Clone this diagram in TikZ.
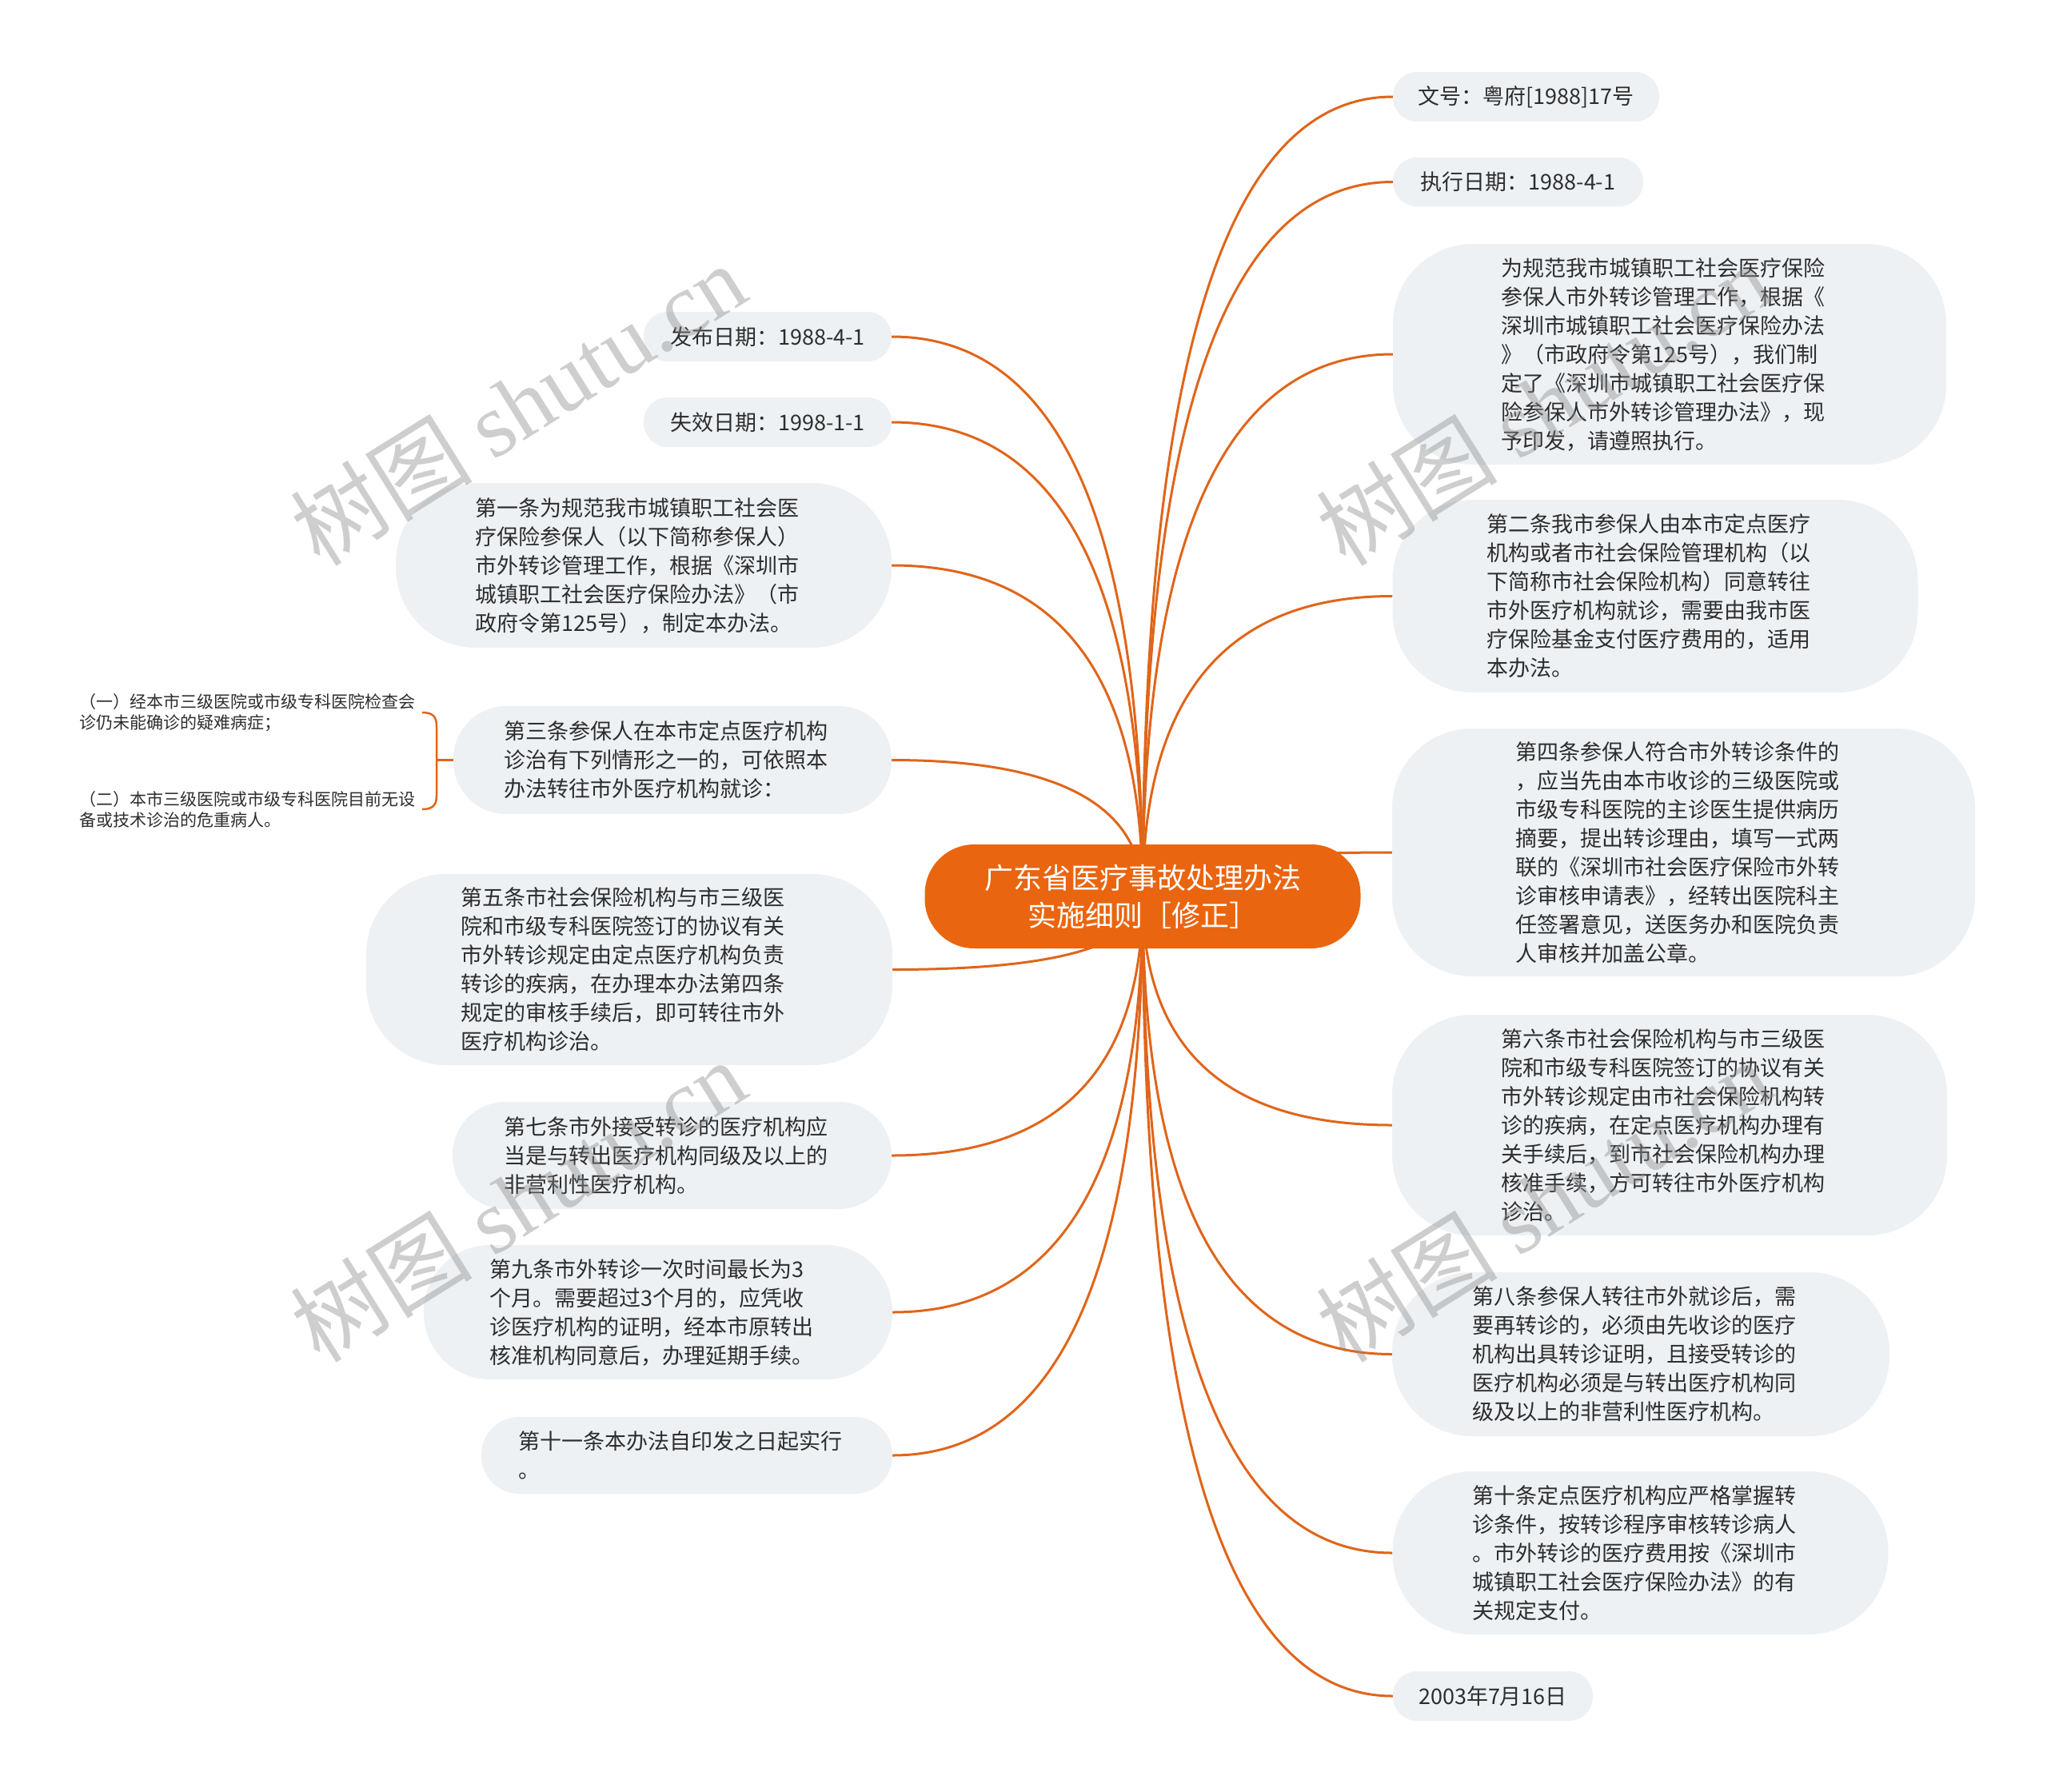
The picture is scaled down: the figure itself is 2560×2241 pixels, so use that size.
\documentclass[tikz,border=0pt]{standalone}
\usepackage{fontspec}
\setmainfont{Noto Sans CJK SC}
\newfontfamily\wmserif{Liberation Serif}
\usetikzlibrary{calc,backgrounds}
\definecolor{boxfill}{HTML}{EEF1F4}
\definecolor{mainfill}{HTML}{EA6510}
\definecolor{linkc}{HTML}{E0651A}
\definecolor{txt}{HTML}{2D2D2D}
\definecolor{wm}{HTML}{8C8C8C}
\begin{document}
\begin{tikzpicture}[x=1pt,y=-1pt,
  bx/.style={fill=boxfill, align=left, text=txt, inner sep=0pt, font=\fontsize{27}{36}\selectfont},
  longbx/.style={bx, text width=421pt},
  mainbox/.style={fill=mainfill, text=white, align=center, inner sep=0pt, font=\fontsize{36}{47}\selectfont, minimum width=545pt, minimum height=130pt, rounded corners=62pt},
  subtext/.style={align=left, text=txt, inner xsep=8pt, inner ysep=0pt, font=\fontsize{21}{26}\selectfont},
  link/.style={draw=linkc, line width=3pt},
  wmark/.style={text=wm, text opacity=0.42, rotate=32, inner sep=0pt, font=\fontsize{114}{120}\selectfont}
]
\useasboundingbox (0,0) rectangle (2560,2241);

% central topic
\node[mainbox] (c) at (1429,1121) {广东省医疗事故处理办法\\实施细则［修正］};

% right side
\node[bx, minimum width=333pt, minimum height=62pt, rounded corners=30pt] (r1) at (1908.5,121) {文号：粤府[1988]17号};
\node[bx, minimum width=313pt, minimum height=61pt, rounded corners=30pt] (r2) at (1898.5,227.5) {执行日期：1988-4-1};
\node[longbx, minimum width=692pt, minimum height=276pt, rounded corners=100pt] (r3) at (2088,443) {为规范我市城镇职工社会医疗保险\\参保人市外转诊管理工作，根据《\\深圳市城镇职工社会医疗保险办法\\》（市政府令第125号），我们制\\定了《深圳市城镇职工社会医疗保\\险参保人市外转诊管理办法》，现\\予印发，请遵照执行。};
\node[longbx, minimum width=657pt, minimum height=241pt, rounded corners=100pt] (r4) at (2070,745.5) {第二条我市参保人由本市定点医疗\\机构或者市社会保险管理机构（以\\下简称市社会保险机构）同意转往\\市外医疗机构就诊，需要由我市医\\疗保险基金支付医疗费用的，适用\\本办法。};
\node[longbx, minimum width=729pt, minimum height=310pt, rounded corners=100pt] (r5) at (2105.5,1066) {第四条参保人符合市外转诊条件的\\，应当先由本市收诊的三级医院或\\市级专科医院的主诊医生提供病历\\摘要，提出转诊理由，填写一式两\\联的《深圳市社会医疗保险市外转\\诊审核申请表》，经转出医院科主\\任签署意见，送医务办和医院负责\\人审核并加盖公章。};
\node[longbx, minimum width=694pt, minimum height=276pt, rounded corners=100pt] (r6) at (2088,1407) {第六条市社会保险机构与市三级医\\院和市级专科医院签订的协议有关\\市外转诊规定由市社会保险机构转\\诊的疾病，在定点医疗机构办理有\\关手续后，到市社会保险机构办理\\核准手续，方可转往市外医疗机构\\诊治。};
\node[longbx, minimum width=622pt, minimum height=205pt, rounded corners=100pt] (r7) at (2052,1693.5) {第八条参保人转往市外就诊后，需\\要再转诊的，必须由先收诊的医疗\\机构出具转诊证明，且接受转诊的\\医疗机构必须是与转出医疗机构同\\级及以上的非营利性医疗机构。};
\node[longbx, minimum width=620pt, minimum height=204pt, rounded corners=100pt] (r8) at (2051.5,1942) {第十条定点医疗机构应严格掌握转\\诊条件，按转诊程序审核转诊病人\\。市外转诊的医疗费用按《深圳市\\城镇职工社会医疗保险办法》的有\\关规定支付。};
\node[bx, minimum width=250pt, minimum height=62pt, rounded corners=30pt] (r9) at (1867,2121) {2003年7月16日};

% left side
\node[bx, minimum width=310pt, minimum height=62pt, rounded corners=30pt] (l1) at (960,421) {发布日期：1988-4-1};
\node[bx, minimum width=310pt, minimum height=62pt, rounded corners=30pt] (l2) at (960,528) {失效日期：1998-1-1};
\node[longbx, minimum width=620pt, minimum height=206pt, rounded corners=100pt] (l3) at (805,707) {第一条为规范我市城镇职工社会医\\疗保险参保人（以下简称参保人）\\市外转诊管理工作，根据《深圳市\\城镇职工社会医疗保险办法》（市\\政府令第125号），制定本办法。};
\node[longbx, minimum width=548pt, minimum height=135pt, rounded corners=66pt] (l4) at (841,950.5) {第三条参保人在本市定点医疗机构\\诊治有下列情形之一的，可依照本\\办法转往市外医疗机构就诊：};
\node[longbx, minimum width=658pt, minimum height=239pt, rounded corners=100pt] (l5) at (787,1212.5) {第五条市社会保险机构与市三级医\\院和市级专科医院签订的协议有关\\市外转诊规定由定点医疗机构负责\\转诊的疾病，在办理本办法第四条\\规定的审核手续后，即可转往市外\\医疗机构诊治。};
\node[longbx, minimum width=549pt, minimum height=134pt, rounded corners=66pt] (l6) at (840.5,1445) {第七条市外接受转诊的医疗机构应\\当是与转出医疗机构同级及以上的\\非营利性医疗机构。};
\node[longbx, minimum width=586pt, minimum height=168pt, rounded corners=83pt] (l7) at (823,1641) {第九条市外转诊一次时间最长为3\\个月。需要超过3个月的，应凭收\\诊医疗机构的证明，经本市原转出\\核准机构同意后，办理延期手续。};
\node[longbx, minimum width=514pt, minimum height=96pt, rounded corners=47pt] (l8) at (859,1820) {第十一条本办法自印发之日起实行\\。};

% sub items of l4
\node[subtext, anchor=east] (s1) at (528,891) {（一）经本市三级医院或市级专科医院检查会\\诊仍未能确诊的疑难病症；};
\node[subtext, anchor=east] (s2) at (528,1012) {（二）本市三级医院或市级专科医院目前无设\\备或技术诊治的危重病人。};

\begin{scope}[on background layer]
  \fill[white] (0,0) rectangle (2560,2241);
  \foreach \i in {1,...,9} {
    \coordinate (k) at (c.center |- r\i.west);
    \draw[link] (c.center) .. controls ($(c.center)!0.6667!(k)$) and ($(r\i.west)!0.6667!(k)$) .. (r\i.west);
  }
  \foreach \i in {1,...,8} {
    \coordinate (k) at (c.center |- l\i.east);
    \draw[link] (c.center) .. controls ($(c.center)!0.6667!(k)$) and ($(l\i.east)!0.6667!(k)$) .. (l\i.east);
  }
  \path (s1.east) ++(18,0) coordinate (b1);
  \coordinate (bm) at (b1 |- l4.west);
  \draw[link, line width=2.5pt] (s1.east) .. controls ($(s1.east)+(13,0)$) and ($(s1.east)+(18,5)$) .. ($(s1.east)+(18,17)$) -- ($(s2.east)+(18,-17)$) .. controls ($(s2.east)+(18,-5)$) and ($(s2.east)+(13,0)$) .. (s2.east);
  \draw[link] (bm) -- (l4.west);
\end{scope}

% watermarks
\node[wmark] (w1) at (648,505) {树图 {\wmserif shutu.cn}};
\node[wmark] (w2) at (1930,505) {树图 {\wmserif shutu.cn}};
\node[wmark] (w3) at (648,1501) {树图 {\wmserif shutu.cn}};
\node[wmark] (w4) at (1930,1501) {树图 {\wmserif shutu.cn}};
\end{tikzpicture}
\end{document}
